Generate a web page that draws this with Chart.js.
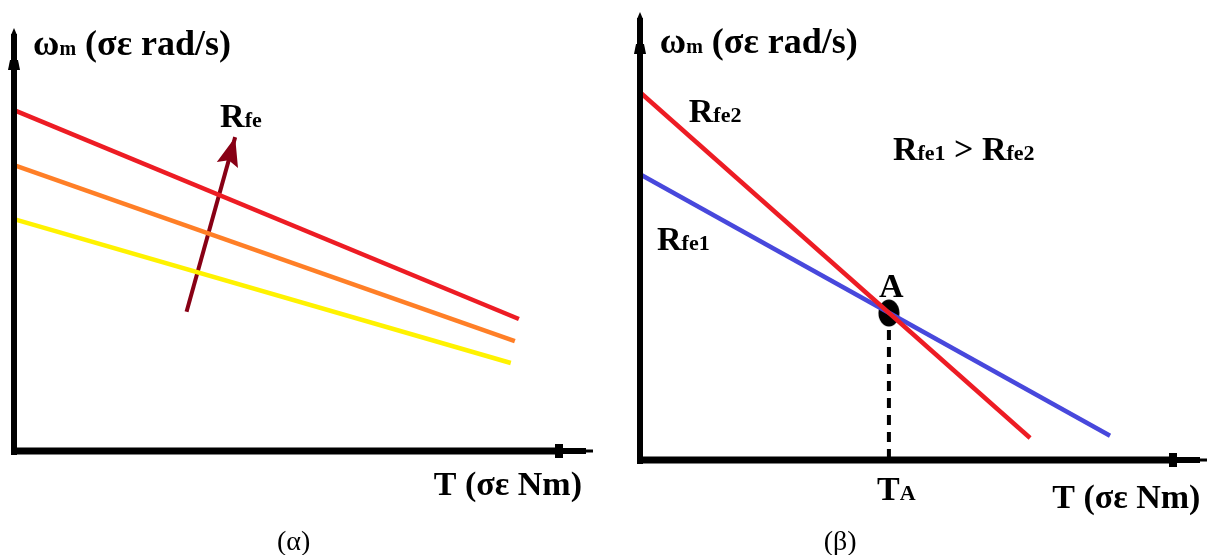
<!DOCTYPE html>
<html>
<head>
<meta charset="utf-8">
<script src="https://cdn.jsdelivr.net/npm/chart.js@4.4.0/dist/chart.umd.min.js"></script>
<style>
  html, body { margin: 0; padding: 0; background: #fff; overflow: hidden; }
  canvas { position: absolute; top: 0; }
</style>
</head>
<body>
<canvas id="alphaChart" width="605" height="555" style="left:0"></canvas>
<canvas id="betaChart" width="605" height="555" style="left:605px"></canvas>
<script>
// (α) speed-torque lines for three Rfe values (arbitrary units, axes 0..100)
const highT = [0, 87.2];
const highW = [80.6, 31.2];
const midT = [0, 86.5];
const midW = [67.6, 26.0];
const lowT = [0, 85.8];
const lowW = [54.8, 20.8];
const arrowT = [29.8, 38.2];   // "Rfe grows" arrow
const arrowW = [32.9, 74.2];

// (β) two lines crossing at point A
const rfe2T = [0, 68.8];
const rfe2W = [82.1, 4.9];
const rfe1T = [0, 82.9];
const rfe1W = [63.8, 5.4];
const pointA = [43.9, 32.8];

const FONT = '"Liberation Serif", "Times New Roman", serif';

function pts(xs, ys) {
  return xs.map((x, i) => ({ x: x, y: ys[i] }));
}

function lineSet(xs, ys, color, width) {
  return {
    data: pts(xs, ys),
    borderColor: color,
    borderWidth: width || 4.5,
    pointRadius: 0,
    clip: false
  };
}

// rich text: parts = [text, size, bold]
function drawRich(ctx, parts, x, y, align) {
  let w = 0;
  parts.forEach(p => {
    ctx.font = (p[2] === false ? '' : 'bold ') + p[1] + 'px ' + FONT;
    w += ctx.measureText(p[0]).width;
  });
  let cx = align === 'center' ? x - w / 2 : x;
  ctx.fillStyle = '#000';
  ctx.textBaseline = 'alphabetic';
  ctx.textAlign = 'left';
  parts.forEach(p => {
    ctx.font = (p[2] === false ? '' : 'bold ') + p[1] + 'px ' + FONT;
    ctx.fillText(p[0], cx, y);
    cx += ctx.measureText(p[0]).width;
  });
}

function axesPlugin(labels) {
  return {
    id: 'axesArrows',
    afterDatasetsDraw(chart) {
      const ctx = chart.ctx;
      const xs = chart.scales.x, ys = chart.scales.y;
      const x0 = xs.getPixelForValue(0), y0 = ys.getPixelForValue(0);
      const xEnd = xs.getPixelForValue(xs.max), yEnd = ys.getPixelForValue(ys.max);
      ctx.save();
      ctx.fillStyle = '#000';
      // vertical axis
      ctx.fillRect(x0 - 3, yEnd + 6, 6, y0 + 4 - yEnd - 6);
      ctx.beginPath();
      ctx.moveTo(x0 - 3, yEnd + 7);
      ctx.lineTo(x0, yEnd);
      ctx.lineTo(x0 + 3, yEnd + 7);
      ctx.fill();
      ctx.beginPath();
      ctx.moveTo(x0 - 4, yEnd + 32);
      ctx.lineTo(x0 + 4, yEnd + 32);
      ctx.lineTo(x0 + 6, yEnd + 42);
      ctx.lineTo(x0 - 6, yEnd + 42);
      ctx.fill();
      // horizontal axis
      ctx.fillRect(x0 - 3, y0 - 3.5, xEnd - 30 - x0 + 3, 7);
      ctx.fillRect(xEnd - 38, y0 - 7, 8, 14);
      ctx.fillRect(xEnd - 31, y0 - 3, 24, 6);
      ctx.fillRect(xEnd - 8, y0 - 1.5, 8, 3);
      ctx.restore();

      labels.forEach(l => {
        drawRich(ctx, l.parts, xs.getPixelForValue(l.x), ys.getPixelForValue(l.y), l.align);
      });
    }
  };
}

const arrowHead = {
  id: 'arrowHead',
  afterDatasetsDraw(chart) {
    const meta = chart.getDatasetMeta(3);
    if (!meta || !meta.data.length) return;
    const a = meta.data[0], b = meta.data[meta.data.length - 1];
    const ang = Math.atan2(b.y - a.y, b.x - a.x);
    const ctx = chart.ctx;
    ctx.save();
    ctx.translate(b.x, b.y);
    ctx.rotate(ang);
    ctx.fillStyle = '#880015';
    ctx.beginPath();
    ctx.moveTo(0, 0);
    ctx.lineTo(-29, -11);
    ctx.lineTo(-24, 0);
    ctx.lineTo(-29, 11);
    ctx.closePath();
    ctx.fill();
    ctx.restore();
  }
};

const baseOptions = (pad) => ({
  responsive: false,
  animation: false,
  layout: { padding: pad, autoPadding: false },
  scales: {
    x: { type: 'linear', min: 0, max: 100, display: false },
    y: { type: 'linear', min: 0, max: 100, display: false }
  },
  plugins: { legend: { display: false }, tooltip: { enabled: false } }
});

const wLabel = (size) => [['ω', size], ['m', Math.round(size * 0.56)], [' (σε rad/s)', size]];
const tLabel = (size) => [['T (σε Nm)', size]];

// (α)
new Chart(document.getElementById('alphaChart').getContext('2d'), {
  type: 'line',
  data: {
    datasets: [
      lineSet(highT, highW, '#ed1c24'),
      lineSet(midT, midW, '#ff7f27'),
      lineSet(lowT, lowW, '#fff200'),
      lineSet(arrowT, arrowW, '#880015', 4)
    ]
  },
  options: baseOptions({ left: 14, right: 12, top: 28, bottom: 104 }),
  plugins: [arrowHead, axesPlugin([
    { parts: wLabel(36), x: 3.3, y: 93.6 },
    { parts: tLabel(34), x: 72.5, y: -10.4 },
    { parts: [['(α)', 28, false]], x: 48.3, y: -23.4, align: 'center' },
    { parts: [['R', 34], ['fe', 22]], x: 35.6, y: 76.6 }
  ])]
});

// ellipse marker for point A
const dot = document.createElement('canvas');
dot.width = 22; dot.height = 28;
const dctx = dot.getContext('2d');
dctx.fillStyle = '#000';
dctx.beginPath();
dctx.ellipse(11, 14, 10.5, 13.5, 0, 0, Math.PI * 2);
dctx.fill();

// (β)
new Chart(document.getElementById('betaChart').getContext('2d'), {
  type: 'line',
  data: {
    datasets: [
      lineSet(rfe2T, rfe2W, '#ed1c24'),
      lineSet(rfe1T, rfe1W, '#4848dc'),
      {
        data: [{ x: pointA[0], y: pointA[1] }, { x: pointA[0], y: 0 }],
        borderColor: '#000',
        borderWidth: 4,
        borderDash: [10, 7],
        pointRadius: 0,
        clip: false
      },
      {
        data: [{ x: pointA[0], y: pointA[1] }],
        pointStyle: dot,
        pointRadius: 12,
        showLine: false,
        clip: false
      }
    ]
  },
  options: baseOptions({ left: 35, right: 3, top: 12, bottom: 95 }),
  plugins: [axesPlugin([
    { parts: wLabel(36), x: 3.5, y: 90.8 },
    { parts: tLabel(34), x: 72.7, y: -10.7 },
    { parts: [['(β)', 28, false]], x: 35.3, y: -20.1, align: 'center' },
    { parts: [['R', 34], ['fe2', 22]], x: 8.6, y: 75.4 },
    { parts: [['R', 34], ['fe1', 22]], x: 3.0, y: 46.9 },
    { parts: [['R', 34], ['fe1', 22], [' > ', 34], ['R', 34], ['fe2', 22]], x: 44.6, y: 67.0 },
    { parts: [['A', 34]], x: pointA[0] + 0.4, y: 36.4, align: 'center' },
    { parts: [['T', 34], ['A', 22]], x: 41.8, y: -8.9 }
  ])]
});
</script>
</body>
</html>
